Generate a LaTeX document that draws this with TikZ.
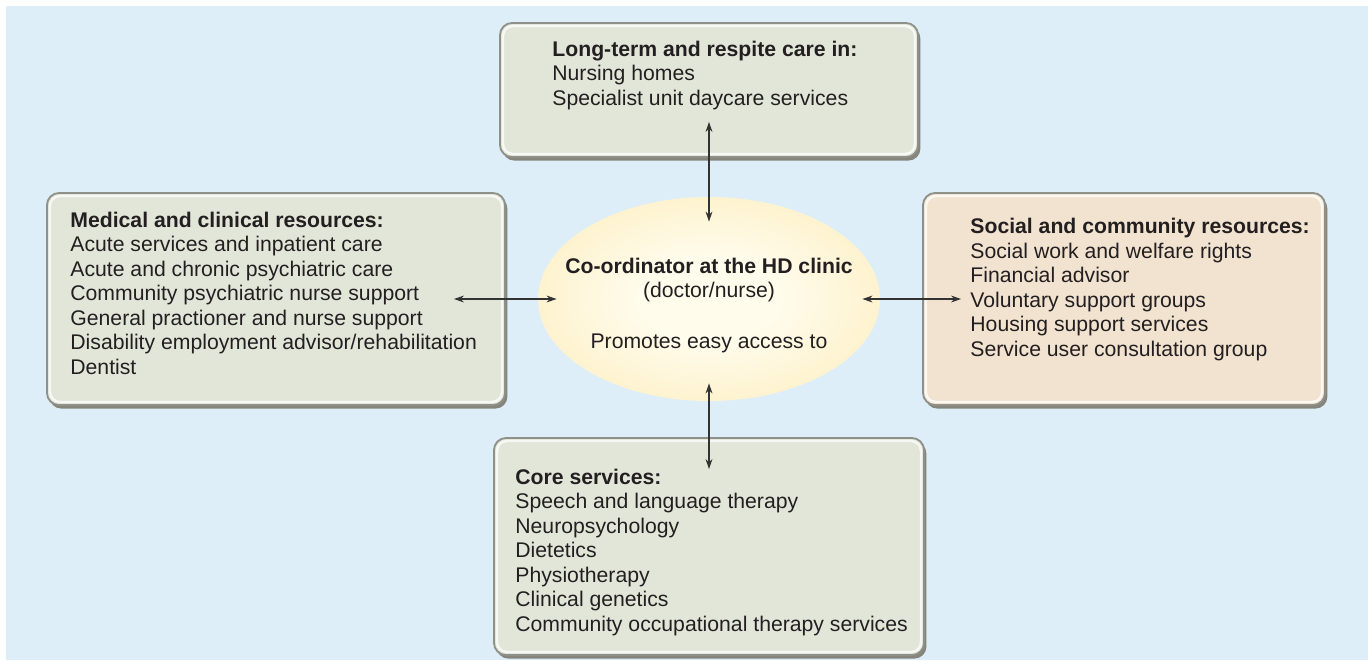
\documentclass[tikz,border=0pt]{standalone}
\usepackage{fontspec}
\setmainfont{Liberation Sans}
\usetikzlibrary{shapes.geometric,arrows.meta,calc,fit,shadows}

\definecolor{BackBlue}{HTML}{DDEEF8}
\definecolor{BoxGreen}{HTML}{E2E6D9}
\definecolor{BoxBeige}{HTML}{F1E3D0}
\definecolor{BoxEdge}{HTML}{8F9088}
\definecolor{BoxShade}{HTML}{85857C}
\definecolor{HubIn}{HTML}{FFFCEC}
\definecolor{HubOut}{HTML}{FBE4A0}
\definecolor{TextDark}{HTML}{231F20}
\definecolor{ArrowDark}{HTML}{333333}

\pgfdeclareradialshading{hubglow}{\pgfpoint{0bp}{0bp}}{color(0bp)=(HubIn); color(10bp)=(HubIn); color(50bp)=(HubOut)}

\begin{document}
\begin{tikzpicture}[x=0.5pt, y=-0.5pt,
  box/.style={rounded corners=6pt, fill=BoxGreen, draw=BoxEdge, line width=0.9pt, inner sep=0pt,
    drop shadow={shadow xshift=1.2pt, shadow yshift=-1.8pt, fill=BoxShade, opacity=1},
    path picture={\draw[white, opacity=0.75, line width=1.2pt, rounded corners=5pt]
      ([shift={(1.5pt,-1.5pt)}]path picture bounding box.north west) rectangle
      ([shift={(-1.5pt,1.5pt)}]path picture bounding box.south east);}},
  txt/.style={anchor=base west, align=left, inner sep=0pt, text=TextDark,
    font=\fontsize{10.6}{12.25}\selectfont},
  ctxt/.style={anchor=base, inner sep=0pt, text=TextDark,
    font=\fontsize{10.6}{12.25}\selectfont},
  link/.style={{Stealth[length=5pt, width=3.4pt]}-{Stealth[length=5pt, width=3.4pt]},
    draw=ArrowDark, line width=0.6pt}]

 %%%%%%%%%% Background %%%%%%%%%%
 \useasboundingbox (0,0) rectangle (1372,660);
 \fill[white] (0,0) rectangle (1372,660);
 \fill[BackBlue] (6,6) rectangle (1368,660);

 %%%%%%%%%% Boxes %%%%%%%%%%
 \node[box, fit={(500,23) (918,157)}] (care) {};
 \node[box, fit={(47,193) (505,405)}] (med) {};
 \node[box, fill=BoxBeige, fit={(923,193) (1325,405)}] (soc) {};
 \node[box, fit={(494,438) (924,655)}] (core) {};

 % Co-ordinator
 \node[ellipse, minimum width=171pt, minimum height=102pt, inner sep=0pt,
   shading=hubglow] (hub) at (709,299) {};

 %%%%%%%%%% Texts (placed at the baseline of their last line) %%%%%%%%%%
 \node[txt] (caretxt) at (552,105) {\textbf{Long-term and respite care in:}\\
   Nursing homes\\Specialist unit daycare services};
 \node[txt] (medtxt) at (70,374) {\textbf{Medical and clinical resources:}\\
   Acute services and inpatient care\\
   Acute and chronic psychiatric care\\
   Community psychiatric nurse support\\
   General practioner and nurse support\\
   Disability employment advisor/rehabilitation\\
   Dentist};
 \node[txt] (soctxt) at (970,356) {\textbf{Social and community resources:}\\
   Social work and welfare rights\\
   Financial advisor\\
   Voluntary support groups\\
   Housing support services\\
   Service user consultation group};
 \node[txt] (coretxt) at (515,631) {\textbf{Core services:}\\
   Speech and language therapy\\
   Neuropsychology\\
   Dietetics\\
   Physiotherapy\\
   Clinical genetics\\
   Community occupational therapy services};

 \node[ctxt] (hubtitle) at (709,273) {\textbf{Co-ordinator at the HD clinic}};
 \node[ctxt] (hubwho) at (709,297) {(doctor/nurse)};
 \node[ctxt] (hubnote) at (709,348) {Promotes easy access to};

 %%%%%%%%%% Arrows %%%%%%%%%%
 \draw[link] ($(care.south)+(0,-36)$) -- ($(hub.north)+(0,25)$);
 \draw[link] ($(hub.south)+(0,-18)$) -- ($(core.north)+(0,32)$);
 \draw[link] ($(med.east)+(-52,0)$) -- ($(hub.west)+(19,0)$);
 \draw[link] ($(hub.east)+(-18,0)$) -- ($(soc.west)+(39,0)$);

\end{tikzpicture}
\end{document}
